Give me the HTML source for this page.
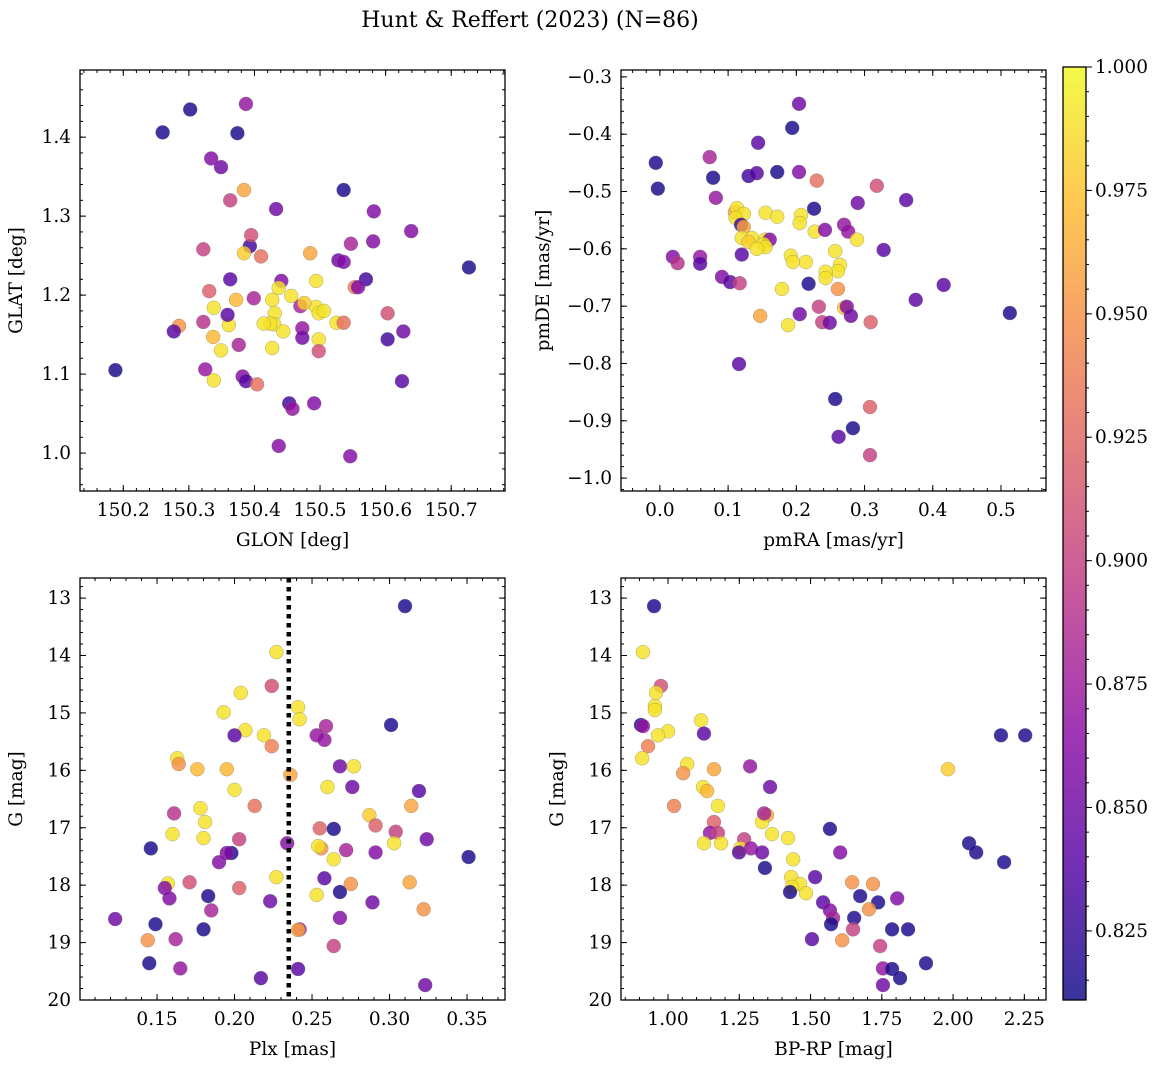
<!DOCTYPE html>
<html><head><meta charset="utf-8"><style>
html,body{margin:0;padding:0;background:#fff;}
svg{display:block;font-family:"DejaVu Serif","Liberation Serif",serif;}
</style></head><body>
<svg id="fig" width="1160" height="1067" xmlns="http://www.w3.org/2000/svg">
<text x="530" y="27" font-size="22" text-anchor="middle">Hunt &amp; Reffert (2023) (N=86)</text>
</svg>
<script>
// ---- Panel 1: GLON vs GLAT ----
const glon=[150.302,150.260,150.387,150.374,150.334,150.349,150.363,150.384,150.536,150.433,150.582,150.581,150.547,150.639,150.393,150.395,150.384,150.410,150.485,150.322,150.363,150.441,150.528,150.536,150.570,150.727,150.494,150.437,150.456,150.427,150.372,150.399,150.331,150.553,150.558,150.470,150.494,150.498,150.506,150.476,150.431,150.430,150.424,150.414,150.444,150.361,150.338,150.359,150.473,150.525,150.536,150.603,150.285,150.277,150.322,150.337,150.349,150.376,150.473,150.427,150.498,150.498,150.627,150.603,150.188,150.325,150.338,150.382,150.387,150.404,150.453,150.458,150.491,150.625,150.437,150.546];
const glat=[1.435,1.406,1.442,1.405,1.373,1.362,1.320,1.333,1.333,1.309,1.306,1.268,1.265,1.281,1.262,1.276,1.253,1.249,1.253,1.258,1.220,1.218,1.244,1.242,1.220,1.235,1.218,1.209,1.199,1.194,1.194,1.196,1.205,1.210,1.210,1.186,1.185,1.177,1.180,1.190,1.177,1.163,1.164,1.164,1.154,1.162,1.184,1.175,1.158,1.165,1.165,1.177,1.161,1.154,1.166,1.147,1.130,1.137,1.146,1.133,1.144,1.129,1.154,1.144,1.105,1.106,1.092,1.097,1.091,1.087,1.063,1.056,1.063,1.091,1.009,0.996];
const prob1=[0.815,0.815,0.87,0.815,0.86,0.85,0.90,0.96,0.815,0.85,0.86,0.86,0.88,0.86,0.83,0.91,0.98,0.93,0.96,0.90,0.84,0.86,0.85,0.86,0.83,0.815,0.99,0.99,0.99,0.99,0.97,0.88,0.92,0.94,0.86,0.88,0.99,0.99,0.99,0.98,0.99,0.99,0.99,0.99,0.99,0.99,0.99,0.84,0.87,0.99,0.93,0.91,0.95,0.84,0.89,0.97,0.99,0.88,0.85,0.99,0.99,0.91,0.85,0.83,0.815,0.87,0.99,0.86,0.84,0.93,0.83,0.87,0.86,0.84,0.86,0.86];
// ---- Panel 2: pmRA vs pmDE ----
const pmra=[-0.006,-0.003,0.204,0.194,0.144,0.073,0.078,0.130,0.142,0.172,0.204,0.230,0.318,0.082,0.290,0.361,0.110,0.113,0.123,0.155,0.172,0.111,0.207,0.205,0.226,0.270,0.276,0.119,0.123,0.120,0.135,0.154,0.161,0.227,0.242,0.289,0.130,0.152,0.155,0.142,0.120,0.328,0.192,0.214,0.257,0.019,0.026,0.059,0.059,0.195,0.264,0.261,0.243,0.243,0.091,0.103,0.117,0.218,0.261,0.416,0.179,0.375,0.233,0.270,0.274,0.147,0.205,0.280,0.238,0.249,0.188,0.309,0.513,0.116,0.257,0.308,0.283,0.262,0.308];
const pmde=[-0.450,-0.495,-0.347,-0.389,-0.415,-0.440,-0.476,-0.473,-0.468,-0.466,-0.466,-0.481,-0.490,-0.511,-0.520,-0.515,-0.536,-0.529,-0.539,-0.537,-0.544,-0.546,-0.541,-0.555,-0.530,-0.558,-0.570,-0.558,-0.562,-0.581,-0.581,-0.584,-0.584,-0.570,-0.567,-0.584,-0.588,-0.592,-0.597,-0.600,-0.610,-0.602,-0.612,-0.623,-0.604,-0.614,-0.625,-0.614,-0.626,-0.623,-0.628,-0.639,-0.640,-0.651,-0.649,-0.658,-0.660,-0.661,-0.670,-0.663,-0.670,-0.689,-0.701,-0.703,-0.701,-0.717,-0.714,-0.717,-0.728,-0.729,-0.733,-0.728,-0.712,-0.801,-0.862,-0.876,-0.913,-0.928,-0.960];
const prob2=[0.815,0.815,0.85,0.815,0.84,0.88,0.815,0.83,0.84,0.815,0.86,0.93,0.91,0.87,0.85,0.84,0.96,0.99,0.99,0.99,0.99,0.99,0.99,0.99,0.815,0.87,0.87,0.83,0.96,0.99,0.99,0.99,0.86,0.99,0.86,0.99,0.98,0.99,0.99,0.99,0.84,0.84,0.99,0.99,0.99,0.86,0.89,0.87,0.84,0.99,0.99,0.99,0.99,0.99,0.86,0.84,0.90,0.815,0.95,0.84,0.99,0.84,0.90,0.98,0.86,0.96,0.85,0.85,0.90,0.85,0.99,0.92,0.815,0.84,0.815,0.92,0.815,0.84,0.90];
// ---- Panel 3: Plx vs G ----
const plx=[0.310,0.227,0.224,0.204,0.241,0.193,0.242,0.259,0.301,0.207,0.200,0.219,0.253,0.258,0.224,0.163,0.164,0.176,0.195,0.268,0.277,0.236,0.260,0.276,0.200,0.319,0.178,0.213,0.314,0.161,0.287,0.181,0.291,0.255,0.264,0.304,0.160,0.303,0.180,0.203,0.234,0.324,0.256,0.254,0.272,0.146,0.198,0.195,0.291,0.351,0.264,0.190,0.227,0.258,0.171,0.157,0.313,0.275,0.155,0.203,0.268,0.158,0.183,0.253,0.223,0.289,0.322,0.185,0.268,0.123,0.149,0.242,0.180,0.241,0.144,0.162,0.264,0.145,0.165,0.241,0.217,0.323];
const gmag3=[13.14,13.94,14.53,14.65,14.90,14.99,15.11,15.23,15.21,15.30,15.39,15.39,15.39,15.47,15.58,15.79,15.89,15.98,15.98,15.93,15.93,16.08,16.29,16.29,16.34,16.36,16.66,16.62,16.62,16.75,16.78,16.90,16.96,17.01,17.02,17.07,17.11,17.27,17.18,17.20,17.27,17.20,17.36,17.32,17.39,17.36,17.44,17.44,17.43,17.51,17.55,17.60,17.86,17.88,17.95,17.97,17.95,17.98,18.05,18.05,18.12,18.23,18.19,18.17,18.28,18.30,18.42,18.44,18.57,18.59,18.68,18.77,18.77,18.78,18.96,18.94,19.06,19.36,19.45,19.46,19.62,19.74];
const prob3=[0.815,0.99,0.91,0.99,0.99,0.99,0.99,0.88,0.815,0.99,0.84,0.99,0.87,0.87,0.94,0.99,0.95,0.97,0.97,0.85,0.99,0.96,0.99,0.85,0.99,0.84,0.99,0.93,0.96,0.89,0.98,0.99,0.92,0.92,0.815,0.90,0.99,0.99,0.99,0.90,0.86,0.85,0.95,0.99,0.88,0.815,0.815,0.86,0.86,0.815,0.99,0.86,0.99,0.84,0.91,0.99,0.96,0.95,0.86,0.92,0.815,0.86,0.815,0.99,0.85,0.85,0.95,0.88,0.86,0.85,0.815,0.88,0.815,0.96,0.95,0.88,0.90,0.815,0.87,0.84,0.84,0.85];
// ---- Panel 4: BP-RP vs G ----
const bprp=[0.951,0.912,0.975,0.958,0.954,0.954,1.000,0.965,0.905,0.912,0.930,0.909,2.168,2.253,1.116,1.126,1.067,1.053,1.161,1.288,1.123,1.137,1.358,1.982,1.021,1.175,1.347,1.330,1.337,1.161,1.568,1.147,1.365,1.175,1.267,1.421,1.126,1.186,1.253,1.249,1.291,1.330,1.439,1.604,2.056,2.081,2.179,1.340,1.516,1.432,1.463,1.435,1.484,1.646,1.719,1.428,1.674,1.544,1.804,1.737,1.705,1.568,1.579,1.653,1.572,1.649,1.786,1.842,1.505,1.611,1.744,1.905,1.754,1.786,1.814,1.754];
const gmag4=[13.14,13.94,14.53,14.65,14.88,14.95,15.32,15.39,15.21,15.23,15.58,15.79,15.39,15.39,15.13,15.36,15.89,16.05,15.98,15.93,16.29,16.36,16.29,15.98,16.62,16.62,16.78,16.90,16.75,16.90,17.02,17.09,17.11,17.09,17.20,17.18,17.27,17.27,17.36,17.43,17.36,17.43,17.55,17.43,17.27,17.43,17.60,17.70,17.86,17.86,17.98,18.03,18.14,17.95,17.98,18.12,18.19,18.30,18.23,18.30,18.42,18.44,18.57,18.57,18.68,18.77,18.77,18.77,18.94,18.96,19.06,19.36,19.45,19.46,19.62,19.74];
const prob4=[0.815,0.99,0.91,0.99,0.99,0.99,0.99,0.99,0.815,0.87,0.94,0.99,0.815,0.815,0.99,0.84,0.99,0.95,0.96,0.87,0.99,0.97,0.85,0.98,0.94,0.99,0.96,0.99,0.88,0.92,0.815,0.87,0.99,0.90,0.90,0.99,0.99,0.99,0.99,0.84,0.87,0.85,0.99,0.86,0.815,0.815,0.815,0.815,0.84,0.99,0.99,0.99,0.99,0.95,0.95,0.815,0.815,0.84,0.86,0.815,0.95,0.86,0.88,0.815,0.815,0.90,0.815,0.815,0.84,0.95,0.90,0.815,0.87,0.815,0.815,0.85];
// colorbar ticks
const cbTicks=[0.825,0.85,0.875,0.9,0.925,0.95,0.975,1.0];
const plxCut=[0.235];

const NS="http://www.w3.org/2000/svg";
const svg=document.getElementById('fig');
function mk(tag,attrs,parent){const e=document.createElementNS(NS,tag);for(const k in attrs)e.setAttribute(k,attrs[k]);(parent||svg).appendChild(e);return e;}
const PMIN=0.811,PMAX=1.0;
const FS=18.5;
const stops=[[13,8,135],[84,2,163],[139,10,165],[185,50,137],[219,92,104],[244,136,73],[254,188,43],[240,249,33]];
function cmap(p){let t=(p-PMIN)/(PMAX-PMIN);t=Math.max(0,Math.min(1,t));const f=t*(stops.length-1);const i=Math.min(stops.length-2,Math.floor(f));const r=f-i;const a=stops[i],b=stops[i+1];return `rgb(${Math.round(a[0]+(b[0]-a[0])*r)},${Math.round(a[1]+(b[1]-a[1])*r)},${Math.round(a[2]+(b[2]-a[2])*r)})`;}
function fmt(v,d){const s=Math.abs(v).toFixed(d);return (v<-1e-9?'\u2212':'')+s;}

function panel(c){
  const g=mk('g',{});
  
  
  const sx=v=>c.L+(v-c.xl[0])/(c.xl[1]-c.xl[0])*(c.R-c.L);
  const sy=v=>c.inv? c.T+(v-c.yl[0])/(c.yl[1]-c.yl[0])*(c.B-c.T) : c.B-(v-c.yl[0])/(c.yl[1]-c.yl[0])*(c.B-c.T);
  for(let i=0;i<c.xs.length;i++){
    const pt=mk('circle',{cx:sx(c.xs[i]),cy:sy(c.ys[i]),r:7,fill:cmap(c.cs[i]),'fill-opacity':0.82,stroke:'#777','stroke-width':0.5,'stroke-opacity':0.6},g);
    
    
  }
  if(c.vline){for(const v of c.vline){const ln=mk('line',{x1:sx(v),x2:sx(v),y1:c.T,y2:c.B,stroke:'#000','stroke-width':4.5,'stroke-dasharray':'4.5,4.5'},g);
    
    }}
  const fr=mk('rect',{x:c.L,y:c.T,width:c.R-c.L,height:c.B-c.T,fill:'none',stroke:'#000','stroke-width':1.3},g);
  
  
  const lo=Math.min(...c.xl),hi=Math.max(...c.xl);
  for(let v=Math.ceil(lo/c.xm-1e-6)*c.xm;v<=hi+1e-9;v+=c.xm){const X=sx(v);mk('line',{x1:X,x2:X,y1:c.B,y2:c.B-3,stroke:'#000'},g);mk('line',{x1:X,x2:X,y1:c.T,y2:c.T+3,stroke:'#000'},g);}
  const ylo=Math.min(...c.yl),yhi=Math.max(...c.yl);
  for(let v=Math.ceil(ylo/c.ym-1e-6)*c.ym;v<=yhi+1e-9;v+=c.ym){const Y=sy(v);mk('line',{x1:c.L,x2:c.L+3,y1:Y,y2:Y,stroke:'#000'},g);mk('line',{x1:c.R,x2:c.R-3,y1:Y,y2:Y,stroke:'#000'},g);}
  for(const v of c.xt){const X=sx(v);mk('line',{x1:X,x2:X,y1:c.B,y2:c.B-6,stroke:'#000'},g);mk('line',{x1:X,x2:X,y1:c.T,y2:c.T+6,stroke:'#000'},g);
    const t=mk('text',{x:X,y:c.B+25,'font-size':FS,'text-anchor':'middle'},g);t.textContent=fmt(v,c.xd);
    
    }
  for(const v of c.yt){const Y=sy(v);mk('line',{x1:c.L,x2:c.L+6,y1:Y,y2:Y,stroke:'#000'},g);mk('line',{x1:c.R,x2:c.R-6,y1:Y,y2:Y,stroke:'#000'},g);
    const t=mk('text',{x:c.L-9,y:Y+6,'font-size':FS,'text-anchor':'end'},g);t.textContent=fmt(v,c.yd);
    
    }
  const xl=mk('text',{x:(c.L+c.R)/2,y:c.B+55,'font-size':FS,'text-anchor':'middle'},g);xl.textContent=c.xlab;
  
  
  const yx=c.L-c.ylo, yy=(c.T+c.B)/2;
  const yl=mk('text',{x:yx,y:yy,'font-size':FS,'text-anchor':'middle',transform:`rotate(-90 ${yx} ${yy})`},g);yl.textContent=c.ylab;
  
  
}
panel({name:'glon-glat-panel',L:80,R:505,T:70,B:491,xl:[150.134,150.782],yl:[0.952,1.485],xt:[150.2,150.3,150.4,150.5,150.6,150.7],yt:[1.0,1.1,1.2,1.3,1.4],xm:0.02,ym:0.02,xd:1,yd:1,xlab:'GLON [deg]',ylab:'GLAT [deg]',ylo:58,xs:glon,ys:glat,cs:prob1});
panel({name:'proper-motion-panel',L:621,R:1046,T:70,B:491,xl:[-0.057,0.566],yl:[-1.0225,-0.288],xt:[0,0.1,0.2,0.3,0.4,0.5],yt:[-1.0,-0.9,-0.8,-0.7,-0.6,-0.5,-0.4,-0.3],xm:0.02,ym:0.02,xd:1,yd:1,xlab:'pmRA [mas/yr]',ylab:'pmDE [mas/yr]',ylo:72,xs:pmra,ys:pmde,cs:prob2});
panel({name:'parallax-magnitude-panel',L:80,R:505,T:578,B:1000,xl:[0.1003,0.3745],yl:[12.65,20.0],inv:true,xt:[0.15,0.2,0.25,0.3,0.35],yt:[13,14,15,16,17,18,19,20],xm:0.01,ym:0.2,xd:2,yd:0,xlab:'Plx [mas]',ylab:'G [mag]',ylo:58,xs:plx,ys:gmag3,cs:prob3,vline:plxCut});
panel({name:'color-magnitude-panel',L:621,R:1046,T:578,B:1000,xl:[0.835,2.326],yl:[12.65,20.0],inv:true,xt:[1.0,1.25,1.5,1.75,2.0,2.25],yt:[13,14,15,16,17,18,19,20],xm:0.05,ym:0.2,xd:2,yd:0,xlab:'BP-RP [mag]',ylab:'G [mag]',ylo:58,xs:bprp,ys:gmag4,cs:prob4});

const cb=mk('g',{});


const CL=1063,CR=1086,CT=67,CB=1000;
const defs=mk('defs',{},cb);
const lg=mk('linearGradient',{id:'cbg',x1:0,y1:1,x2:0,y2:0},defs);
stops.forEach((s,i)=>mk('stop',{offset:i/(stops.length-1),'stop-color':`rgb(${s[0]},${s[1]},${s[2]})`,'stop-opacity':0.82},lg));
mk('rect',{x:CL,y:CT,width:CR-CL,height:CB-CT,fill:'url(#cbg)',stroke:'#000','stroke-width':1.3},cb);
const cy=v=>CB-(v-PMIN)/(PMAX-PMIN)*(CB-CT);
for(let v=0.815;v<=1.0001;v+=0.005){mk('line',{x1:CR,x2:CR+3,y1:cy(v),y2:cy(v),stroke:'#000'},cb);}
for(const v of cbTicks){const Y=cy(v);mk('line',{x1:CR,x2:CR+6,y1:Y,y2:Y,stroke:'#000'},cb);
  const t=mk('text',{x:CR+9,y:Y+6,'font-size':FS},cb);t.textContent=v.toFixed(3);
  
  }
</script>
</body></html>
